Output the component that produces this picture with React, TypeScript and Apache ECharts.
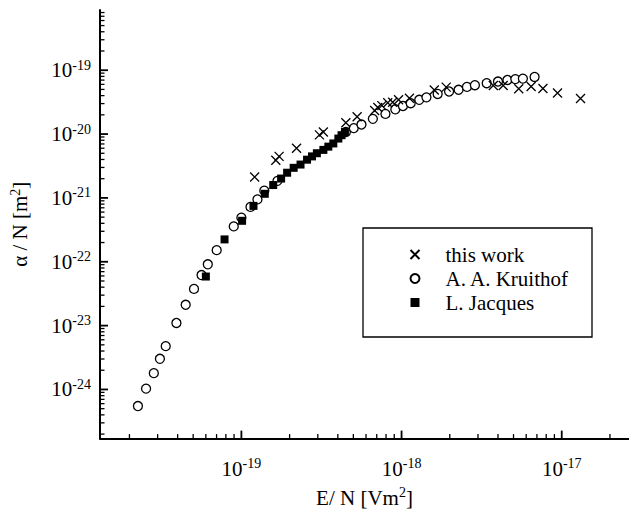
import React, { useEffect, useRef } from 'react';
import * as echarts from 'echarts';

// Axis ranges (E/N in V m^2, alpha/N in m^2)
const X_MIN = 1.31e-20;
const X_MAX = 2.63e-17;
const Y_MIN = 1.7e-25;
const Y_MAX = 8.77e-19;

// "this work"
const thisWorkE = [
  1.21e-19, 1.64e-19, 1.72e-19, 2.21e-19, 3.07e-19, 3.25e-19, 4.49e-19, 5.28e-19,
  6.79e-19, 7.11e-19, 7.53e-19, 8.2e-19, 8.8e-19, 9.58e-19, 1.12e-18, 1.6e-18,
  1.9e-18, 3.74e-18, 4.31e-18, 5.39e-18, 6.44e-18, 7.63e-18, 9.41e-18, 1.31e-17,
];
const thisWorkA = [
  2.13e-21, 3.88e-21, 4.47e-21, 5.98e-21, 9.7e-21, 1.08e-20, 1.5e-20, 1.87e-20,
  2.34e-20, 2.6e-20, 2.79e-20, 3.1e-20, 3.15e-20, 3.44e-20, 3.63e-20, 4.89e-20,
  5.44e-20, 5.77e-20, 5.77e-20, 5.12e-20, 5.57e-20, 5.16e-20, 4.4e-20, 3.6e-20,
];

// A. A. Kruithof
const kruithofE = [
  2.26e-20, 2.54e-20, 2.84e-20, 3.1e-20, 3.37e-20, 3.93e-20, 4.49e-20, 5.06e-20,
  5.64e-20, 6.17e-20, 7.01e-20, 8.96e-20, 1.0e-19, 1.14e-19, 1.26e-19, 1.39e-19,
  1.68e-19, 4.49e-19, 5.03e-19, 5.62e-19, 6.62e-19, 7.93e-19, 9.14e-19, 1.02e-18,
  1.14e-18, 1.29e-18, 1.43e-18, 1.68e-18, 1.98e-18, 2.27e-18, 2.56e-18, 2.87e-18,
  3.4e-18, 4.0e-18, 4.58e-18, 5.13e-18, 5.72e-18, 6.77e-18,
];
const kruithofA = [
  5.5e-25, 1.03e-24, 1.8e-24, 3.02e-24, 4.77e-24, 1.1e-23, 2.12e-23, 3.76e-23,
  6.19e-23, 9.12e-23, 1.52e-22, 3.58e-22, 4.91e-22, 7.23e-22, 9.48e-22, 1.3e-21,
  1.85e-21, 1.08e-20, 1.24e-20, 1.41e-20, 1.73e-20, 2.07e-20, 2.44e-20, 2.75e-20,
  3.04e-20, 3.44e-20, 3.76e-20, 4.25e-20, 4.64e-20, 4.94e-20, 5.48e-20, 5.83e-20,
  6.26e-20, 6.65e-20, 7.03e-20, 7.26e-20, 7.39e-20, 7.84e-20,
];

// L. Jacques
const jacquesE = [
  6.0e-20, 7.85e-20, 1.01e-19, 1.19e-19, 1.4e-19, 1.58e-19, 1.77e-19, 1.93e-19,
  2.12e-19, 2.34e-19, 2.57e-19, 2.76e-19, 2.96e-19, 3.25e-19, 3.49e-19, 3.75e-19,
  4.03e-19, 4.22e-19, 4.43e-19,
];
const jacquesA = [
  5.87e-23, 2.24e-22, 4.38e-22, 7.5e-22, 1.16e-21, 1.59e-21, 2.01e-21, 2.48e-21,
  2.96e-21, 3.33e-21, 3.97e-21, 4.47e-21, 5.01e-21, 5.65e-21, 6.35e-21, 7.13e-21,
  8.5e-21, 9.6e-21, 1.076e-20,
];

const LEGEND_NAMES = ['this work', 'A. A. Kruithof', 'L. Jacques'];

const FONT = "'Liberation Serif', 'Times New Roman', serif";
const FS = 21;
const SUP = 14;

function logTicks(min: number, max: number): [number, number][] {
  const out: [number, number][] = [];
  for (let e = Math.floor(Math.log10(min)); e <= Math.ceil(Math.log10(max)); e++) {
    for (let k = 1; k <= 9; k++) {
      const v = k * Math.pow(10, e);
      if (v >= min * 1.0001 && v <= max * 0.9999) out.push([v, k === 1 ? 1 : 0]);
    }
  }
  return out;
}

const powLabel = (v: number) => {
  const l = Math.log10(v);
  const e = Math.round(l);
  if (Math.abs(l - e) > 1e-6) return '';
  return `{b|10}{s|${e}}`;
};

const labelRich = {
  b: { fontSize: FS, fontFamily: FONT, color: '#000', lineHeight: 22 },
  s: { fontSize: SUP, fontFamily: FONT, color: '#000', lineHeight: 14, padding: [0, 0, 10, 0] },
};

export default function App() {
  const ref = useRef<HTMLDivElement>(null);
  useEffect(() => {
    if (!ref.current) return;
    const chart = echarts.init(ref.current, null, { renderer: 'svg' });
    const zip = (xs: number[], ys: number[]) => xs.map((x, i) => [x, ys[i]]);
    const xTicks = logTicks(X_MIN, X_MAX).map(([v, m]) => [v, Y_MIN, m]);
    const yTicks = logTicks(Y_MIN, Y_MAX).map(([v, m]) => [X_MIN, v, m]);
    const nameStyle = {
      fontSize: FS,
      fontFamily: FONT,
      color: '#000',
      rich: { s: { fontSize: SUP, fontFamily: FONT, color: '#000', padding: [0, 0, 10, 0] } },
    };
    chart.setOption({
      animation: false,
      backgroundColor: '#fff',
      grid: { left: 94, right: 0, top: 10, bottom: 64 },
      xAxis: {
        type: 'log',
        logBase: 10,
        min: X_MIN,
        max: X_MAX,
        axisLine: { lineStyle: { color: '#000', width: 2 } },
        axisTick: { show: false },
        splitLine: { show: false },
        axisLabel: { formatter: powLabel, rich: labelRich, margin: 19, showMinLabel: false, showMaxLabel: false },
        name: 'E/ N [Vm{s|2}]',
        nameLocation: 'middle',
        nameGap: 38,
        nameTextStyle: nameStyle,
      },
      yAxis: {
        type: 'log',
        logBase: 10,
        min: Y_MIN,
        max: Y_MAX,
        axisLine: { lineStyle: { color: '#000', width: 2 } },
        axisTick: { show: false },
        splitLine: { show: false },
        axisLabel: { formatter: powLabel, rich: labelRich, margin: 9, showMinLabel: false, showMaxLabel: false },
        name: 'α / N [m{s|2}]',
        nameLocation: 'middle',
        nameGap: 68,
        nameRotate: 90,
        nameTextStyle: nameStyle,
      },
      legend: {
        orient: 'vertical',
        left: 408,
        top: 244,
        padding: 0,
        itemWidth: 9,
        itemHeight: 9,
        itemGap: 3,
        selectedMode: false,
        data: LEGEND_NAMES,
        textStyle: { fontSize: FS, fontFamily: FONT, color: '#000', padding: [0, 0, 0, 21] },
      },
      graphic: [
        {
          type: 'rect',
          shape: { x: 363, y: 228, width: 229, height: 109 },
          style: { fill: 'none', stroke: '#000', lineWidth: 1.3 },
          silent: true,
        },
      ],
      series: [
        {
          name: 'A. A. Kruithof',
          type: 'scatter',
          data: zip(kruithofE, kruithofA),
          symbol: 'circle',
          symbolSize: 9,
          itemStyle: { color: '#fff', borderColor: '#000', borderWidth: 1.3, opacity: 1 },
          silent: true,
          z: 2,
        },
        {
          name: 'L. Jacques',
          type: 'scatter',
          data: zip(jacquesE, jacquesA),
          symbol: 'rect',
          symbolSize: 8,
          itemStyle: { color: '#000', opacity: 1 },
          silent: true,
          z: 3,
        },
        {
          name: 'this work',
          type: 'scatter',
          data: zip(thisWorkE, thisWorkA),
          symbol: 'path://M0,0L10,10M10,0L0,10',
          symbolSize: 9,
          itemStyle: { color: 'none', borderColor: '#000', borderWidth: 1.3, opacity: 1 },
          silent: true,
          z: 4,
        },
        {
          name: 'xticks',
          type: 'custom',
          data: xTicks,
          silent: true,
          z: 5,
          renderItem: (_p: any, api: any) => {
            const pt = api.coord([api.value(0), api.value(1)]);
            const major = api.value(2) === 1;
            const len = major ? 8 : 4.5;
            return {
              type: 'line',
              shape: { x1: pt[0], y1: pt[1], x2: pt[0], y2: pt[1] - len },
              style: { stroke: '#000', lineWidth: major ? 1.8 : 1.3 },
            };
          },
        },
        {
          name: 'yticks',
          type: 'custom',
          data: yTicks,
          silent: true,
          z: 5,
          renderItem: (_p: any, api: any) => {
            const pt = api.coord([api.value(0), api.value(1)]);
            const major = api.value(2) === 1;
            const len = major ? 8 : 4.5;
            return {
              type: 'line',
              shape: { x1: pt[0], y1: pt[1], x2: pt[0] + len, y2: pt[1] },
              style: { stroke: '#000', lineWidth: major ? 1.8 : 1.3 },
            };
          },
        },
      ],
    });
    return () => chart.dispose();
  }, []);
  return (
    <div
      ref={ref}
      style={{ position: 'fixed', left: 0, top: 0, width: 629, height: 513, background: '#fff' }}
    />
  );
}
